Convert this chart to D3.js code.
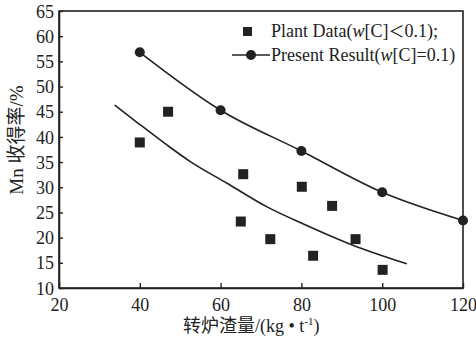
<!DOCTYPE html>
<html lang="zh">
<head>
<meta charset="utf-8">
<title>Mn yield vs slag</title>
<script src="https://cdn.jsdelivr.net/npm/d3@7"></script>
<style>
  body { margin: 0; padding: 0; background: #fff; }
  text { font-family: "Liberation Serif", "Times New Roman", "Noto Sans CJK SC", serif; fill: #222; }
</style>
</head>
<body>
<div id="chart"></div>
<script>
// data
var plantX = [40, 47, 65.6, 65, 72.3, 80.1, 82.9, 87.6, 93.4, 100.1];
var plantY = [38.9, 45, 32.6, 23.2, 19.7, 30.1, 16.4, 26.3, 19.7, 13.6];

var resultX = [40, 60, 80, 100, 120];
var resultY = [56.8, 45.3, 37.2, 29.0, 23.4];

// fitted curve through the plant data
var fitX = [33.8, 38.5, 46.7, 52.5, 61.6, 71.5, 80.5, 92.1, 106.1];
var fitY = [46.3, 43.4, 38.4, 35.1, 30.8, 26.1, 22.7, 18.7, 14.8];

var xTicks = [20, 40, 60, 80, 100, 120];
var yTicks = [10, 15, 20, 25, 30, 35, 40, 45, 50, 55, 60, 65];

var W = 476, H = 338;
var margin = { top: 11, right: 13, bottom: 50, left: 59 };
var w = W - margin.left - margin.right,
    h = H - margin.top - margin.bottom;

var svg = d3.select("#chart").append("svg")
  .attr("width", W).attr("height", H);

var g = svg.append("g")
  .attr("transform", "translate(" + margin.left + "," + margin.top + ")");

var x = d3.scaleLinear().domain([20, 120]).range([0, w]);
var y = d3.scaleLinear().domain([10, 65]).range([h, 0]);

var ink = "#222";
var serif = "'Liberation Serif', 'Times New Roman', serif";

// axes, ticks inside
var xAxis = g.append("g")
  .attr("transform", "translate(0," + h + ")")
  .call(d3.axisBottom(x).tickValues(xTicks).tickSizeInner(-5).tickSizeOuter(0).tickPadding(10));
var yAxis = g.append("g")
  .call(d3.axisLeft(y).tickValues(yTicks).tickSizeInner(-4).tickSizeOuter(0).tickPadding(5));

[xAxis, yAxis].forEach(function (a) {
  a.attr("font-family", null);
  a.selectAll("path").attr("stroke", ink).attr("stroke-width", 1.6);
  a.selectAll("line").attr("stroke", ink).attr("stroke-width", 1.4);
  a.selectAll("text").attr("font-size", 18).attr("fill", ink)
    .style("font-family", serif);
});
yAxis.selectAll("text").attr("dy", "0.34em");

// frame
g.append("rect")
  .attr("width", w).attr("height", h)
  .attr("fill", "none").attr("stroke", ink).attr("stroke-width", 1.6);

// fitted line for plant data
var fit = fitX.map(function (d, i) { return [d, fitY[i]]; });
var line = d3.line()
  .x(function (d) { return x(d[0]); })
  .y(function (d) { return y(d[1]); })
  .curve(d3.curveMonotoneX);

g.append("path").datum(fit)
  .attr("d", line)
  .attr("fill", "none").attr("stroke", ink).attr("stroke-width", 1.6);

// present result line + circles
var res = resultX.map(function (d, i) { return [d, resultY[i]]; });
g.append("path").datum(res)
  .attr("d", line)
  .attr("fill", "none").attr("stroke", ink).attr("stroke-width", 1.6);

g.selectAll("circle.res").data(res).enter().append("circle")
  .attr("class", "res")
  .attr("cx", function (d) { return x(d[0]); })
  .attr("cy", function (d) { return y(d[1]); })
  .attr("r", 5)
  .attr("fill", ink);

// plant squares
var sq = 10;
var plant = plantX.map(function (d, i) { return [d, plantY[i]]; });
g.selectAll("rect.plant").data(plant).enter().append("rect")
  .attr("class", "plant")
  .attr("x", function (d) { return x(d[0]) - sq / 2; })
  .attr("y", function (d) { return y(d[1]) - sq / 2; })
  .attr("width", sq).attr("height", sq)
  .attr("fill", ink);

// legend
var leg = svg.append("g");
leg.append("rect")
  .attr("x", 243).attr("y", 27).attr("width", 9).attr("height", 9)
  .attr("fill", ink);
var t1 = leg.append("text").attr("x", 271).attr("y", 37).attr("font-size", 18);
t1.append("tspan").text("Plant Data(");
t1.append("tspan").attr("font-style", "italic").text("w");
t1.append("tspan").text("[C]");
t1.append("tspan").style("font-family", "'Noto Sans CJK SC'").attr("font-size", 16).text("\uFF1C");
t1.append("tspan").text("0.1);");

leg.append("line")
  .attr("x1", 232).attr("x2", 270).attr("y1", 55).attr("y2", 55)
  .attr("stroke", ink).attr("stroke-width", 1.6);
leg.append("circle").attr("cx", 251).attr("cy", 55).attr("r", 5).attr("fill", ink);
var t2 = leg.append("text").attr("x", 271).attr("y", 61).attr("font-size", 18);
t2.append("tspan").text("Present Result(");
t2.append("tspan").attr("font-style", "italic").text("w");
t2.append("tspan").text("[C]=0.1)");

// axis titles
var xt = svg.append("text")
  .attr("x", 183).attr("y", 332)
  .attr("font-size", 18);
xt.append("tspan").text("转炉渣量/(kg \u2022 t");
xt.append("tspan").attr("font-size", 11).attr("dy", -7).text("-1");
xt.append("tspan").attr("dy", 7).text(")");

svg.append("text")
  .attr("transform", "translate(23,140) rotate(-90)")
  .attr("text-anchor", "middle").attr("font-size", 19)
  .text("Mn 收得率/%");
</script>
</body>
</html>
